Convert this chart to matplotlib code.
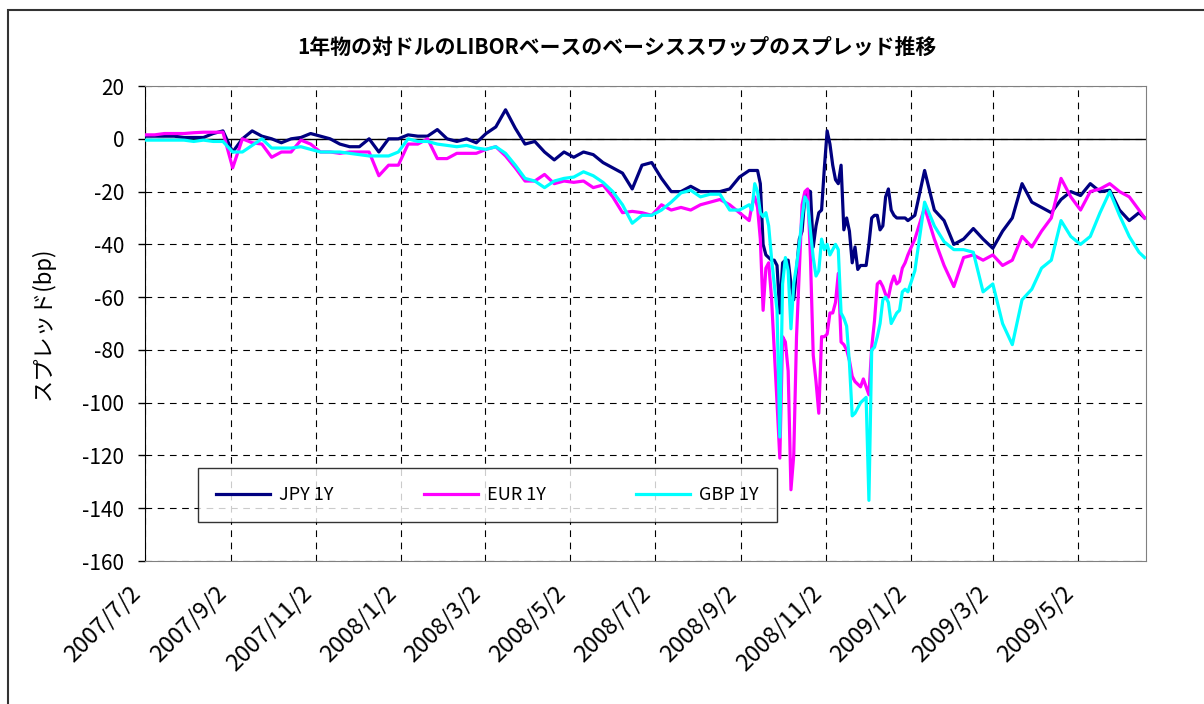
import matplotlib
matplotlib.use("Agg")
import matplotlib.pyplot as plt
from matplotlib.patches import Rectangle
import pandas as pd

plt.rcParams["font.family"] = ["Noto Sans CJK JP", "DejaVu Sans"]

# weekly before the crisis, every 2 days through late 2008, weekly in 2009
dates_pre = pd.date_range("2007-07-02", "2008-09-08", freq="W-MON")
dates_crisis = pd.date_range("2008-09-10", "2008-12-31", freq="2D")
dates_post = pd.date_range("2009-01-05", "2009-06-15", freq="W-MON").append(pd.DatetimeIndex(["2009-06-19"]))
dates = dates_pre.append(dates_crisis).append(dates_post)

jpy = [1, 1, 1, 1, 0.5, 0.5, 0.5, 2, 3, -5,
       0, 3, 1, 0, -1.5, 0, 0.5, 2, 1, 0,
       -2, -3, -3, 0, -5, 0, 0, 1.5, 1, 1,
       3.5, 0, -1, 0, -1.5, 2, 4.5, 11, 4, -2,
       -1, -5, -8, -5, -7, -5, -6, -9, -11, -13,
       -19, -10, -9, -15, -20, -20, -18, -20, -20, -20,
       -19, -14.5, -12,
       # crisis
       -12, -12, -12, -17, -40, -44, -45, -46, -46, -48,
       -66, -47, -46, -46, -55, -61, -50, -38, -35, -22,
       -19.5, -20, -41, -33, -28, -27, -11, 3, -2, -10,
       -15.5, -17, -10, -34.5, -30, -35, -47, -41, -49.5, -48,
       -48, -48, -40, -30, -29, -29, -34.5, -33, -22, -19,
       -27, -29, -30, -30, -30, -30, -31,
       # 2009
       -29, -12, -27, -31, -40, -38, -34, -38, -41.5, -35,
       -30, -17, -24, -26, -28, -23, -20, -21.5, -17, -20,
       -19.5, -27, -31, -28, -30]

eur = [1.5, 1.5, 2, 2, 2, 2.3, 2.5, 2.5, 2.5, -11,
       0, -1.5, -2, -7, -5, -5, -0.5, -2, -5, -5,
       -5.5, -5, -5, -5, -14, -10, -10, -2, -2, 0,
       -7.5, -7.5, -5.5, -5.5, -5.5, -4, -3, -6.5, -11, -16,
       -16, -13.5, -17, -16, -16.5, -16, -18.5, -17.5, -22, -28,
       -27.5, -28, -29, -25, -27, -26, -27, -25, -24, -23,
       -25, -28, -31,
       -25, -22, -26, -38, -65, -49, -47, -60, -80, -100,
       -121, -75, -77, -88, -133, -120, -75, -50, -25, -20,
       -19, -45, -82, -92, -104, -75, -75, -74, -66, -66,
       -62, -51, -77, -78, -80, -84, -90, -92, -93, -94,
       -91, -94, -97, -79, -69, -55, -54, -56, -59, -60,
       -55, -52, -55, -54, -49, -47, -44,
       -38, -26, -38, -48, -56, -45, -44, -46, -44, -48,
       -46, -37, -41, -35, -30, -15, -22, -27, -20, -19,
       -17, -20, -22, -27, -30]

gbp = [-0.5, -0.5, -0.5, -0.5, -0.5, -1, -0.5, -1, -1, -5,
       -5, -2.5, 0, -3.5, -3.5, -3.5, -3, -4, -5, -5,
       -5, -5.5, -6, -6.5, -6.5, -6.5, -5, 0, -1, -1,
       -2, -2.5, -3, -2.5, -3.5, -4, -3, -5.5, -10, -15,
       -16, -18.5, -16, -15, -14.5, -12.5, -14, -16.5, -20, -25,
       -32, -29, -29, -27, -24, -20.5, -19.5, -22, -21, -21,
       -27, -27, -25,
       -27, -17, -20, -28, -29.5, -28, -33, -45, -55, -65,
       -113, -55, -45, -50, -72, -55, -48, -40, -30, -22,
       -24, -35, -45, -52, -50, -38, -42, -40, -44, -42,
       -40, -42, -66, -68, -71, -85, -105, -104, -102, -100,
       -99, -98, -137, -80, -79, -75, -70, -61, -60, -62,
       -70, -68, -66, -65, -58, -57, -58,
       -50, -24, -33, -39, -42, -42, -43, -58, -55, -70,
       -78, -61, -57, -49, -46, -31, -37, -40, -37, -28,
       -20, -29, -37, -43, -45]

series = [("JPY 1Y", jpy, "#000080"), ("EUR 1Y", eur, "#FF00FF"), ("GBP 1Y", gbp, "#00FFFF")]
x_ticks = pd.date_range("2007-07-02", "2009-05-02", freq=pd.DateOffset(months=2))
y_ticks = list(range(-160, 21, 20))

fig = plt.figure(figsize=(12.04, 7.04), dpi=100)
ax = fig.add_axes([0.1204, 0.2031, 0.8314, 0.6747])

for label, vals, color in series:
    ax.plot(dates, vals, color=color, lw=2.3, label=label, zorder=3)

ax.axhline(0, color="black", lw=1.0, zorder=2)
ax.set_xlim(pd.Timestamp("2007-07-02"), pd.Timestamp("2009-06-20"))
ax.set_ylim(-160, 20)

ax.set_xticks(x_ticks)
ax.set_xticklabels([f"{d.year}/{d.month}/{d.day}" for d in x_ticks],
                   rotation=45, ha="right", va="top", fontsize=17)
ax.set_yticks(y_ticks)
ax.set_yticklabels([str(v) for v in y_ticks], fontsize=15)
ax.tick_params(axis="x", length=0, pad=15)
ax.tick_params(axis="y", length=5, width=1, pad=10, direction="out")

ax.grid(True, color="black", lw=0.8, linestyle=(0, (6, 5)), zorder=1)
ax.set_axisbelow(True)
for side in ["top", "right", "bottom"]:
    ax.spines[side].set_color("#808080")
ax.spines["left"].set_color("black")

ax.set_ylabel("スプレッド(bp)", fontsize=16, labelpad=20)
fig.text(0.512, 0.933, "1年物の対ドルのLIBORベースのベーシススワップのスプレッド推移",
         ha="center", va="center", fontsize=15, fontweight="bold")

leg = ax.legend(loc="upper left", bbox_to_anchor=(0.053, 0.196), ncol=3, fontsize=13,
                frameon=True, fancybox=False, handlelength=3.0, handletextpad=0.5,
                columnspacing=5.0, borderpad=1.0, borderaxespad=0)
leg.get_frame().set_edgecolor("black")
leg.get_frame().set_linewidth(1.0)
leg.set_zorder(5)

fig.patches.append(Rectangle((8 / 1204, -0.1), 1.2, 1.1 - 10 / 704, transform=fig.transFigure,
                             fill=False, edgecolor="#333333", lw=1.5))

fig.savefig("out.png", dpi=100)
plt.close(fig)
